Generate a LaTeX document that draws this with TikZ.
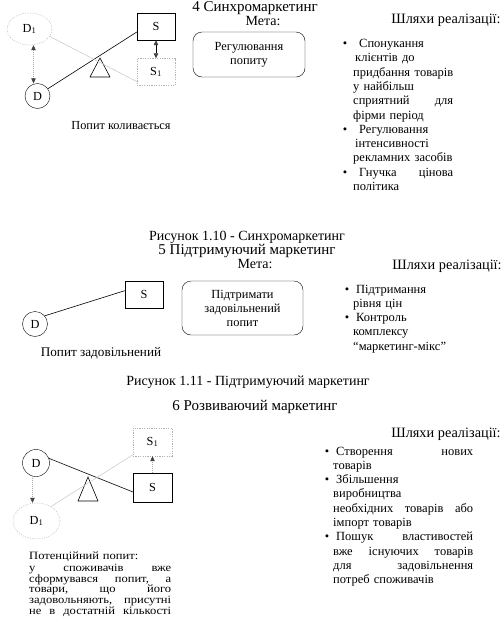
\documentclass[tikz,border=0pt]{standalone}
\usepackage{fontspec}
\setmainfont{Liberation Serif}
\newfontfamily\widefont[FakeStretch=1.12]{Liberation Serif}
\usetikzlibrary{shapes.geometric,arrows.meta,calc}
\newcommand{\bul}[2]{\leavevmode\llap{\textbullet\kern#1}\kern#2}
\newcommand{\jw}[2]{\leavevmode\hbox to #1{#2}}
\tikzset{tri/.tip={Triangle[length=5pt,width=4.5pt,color=black!75]}}
\begin{document}
\begin{tikzpicture}[x=1pt,y=-1pt,
  lbl/.style={inner sep=0pt, font=\fontsize{12.3}{13}\selectfont},
  sbox/.style={draw, minimum width=38pt, minimum height=27pt, inner sep=0pt, lbl},
  sdash/.style={sbox, draw=gray!60, dash pattern=on 1.2pt off 1.2pt},
  dcirc/.style={circle, draw, minimum size=25pt, inner sep=0pt, lbl},
  dell/.style={ellipse, draw=gray!60, dash pattern=on 1.2pt off 1.2pt, inner sep=0pt, lbl},
  goal/.style={draw, rounded corners=9pt, align=center, inner sep=0pt, font=\fontsize{12.4}{14}\selectfont},
  title/.style={anchor=base, inner sep=0pt, font=\fontsize{15}{15}\selectfont},
  capt/.style={anchor=base, inner sep=0pt, font=\fontsize{14}{15}\selectfont},
  head/.style={anchor=base, inner sep=0pt, font=\fontsize{14.3}{15}\selectfont},
  blist/.style={anchor=base west, inner sep=0pt, align=left, font=\fontsize{12.5}{14.3}\selectfont},
  solidl/.style={line width=0.6pt},
  grayl/.style={draw=gray!45, line width=0.5pt},
  darr/.style={draw=gray!70, dash pattern=on 1pt off 1pt, line width=0.5pt},
  seesaw/.style={draw, line width=0.6pt}
]
\useasboundingbox (0,0) rectangle (504,622);

% ---------- 4 Synchromarketing ----------
\node[title] (t4) at (255,11.5) {4 Синхромаркетинг};
\node[capt] (m4) at (263,25) {Мета:};
\node[head] (w4) at (446,23) {Шляхи реалізації:};
\node[goal, minimum width=112pt, minimum height=45pt] (g4) at (249,54.5) {Регулювання\\попиту};

\node[dell, minimum width=45pt, minimum height=32pt] (D1a) at (29.5,29) {D\textsubscript{1}};
\node[dcirc] (Da) at (37.5,96) {D};
\node[sbox] (Sa) at (156,26.5) {S};
\node[sdash] (S1a) at (156,72) {S\textsubscript{1}};
\draw[seesaw] (100,58) -- (90,77) -- (110,77) -- cycle;
\draw[solidl] (Da.35) -- ($(Sa.north west)!0.7!(Sa.south west)$);
\draw[grayl] (D1a.-20) -- ($(S1a.north west)!0.85!(S1a.south west)$);
\coordinate (va) at ($(D1a.south)+(4,0)$);
\draw[darr, tri-tri] (va) -- (va |- Da.north);
\draw[line width=0.6pt, tri-tri] (Sa.south) -- (S1a.north);
\node[lbl] (la) at (121,126) {Попит коливається};

\node[blist, text width=100pt] (ba) at (353,47.5) {%
\bul{6pt}{6pt}Спонукання\\
\hspace*{2pt}клієнтів до\\
\jw{100pt}{придбання \hfill товарів}\\
у найбільш\\
\jw{100pt}{сприятний \hfill для}\\
фірми період\\
\bul{6pt}{6pt}Регулювання\\
\hspace*{2pt}інтенсивності\\
рекламних засобів\\
\bul{6pt}{6pt}\jw{94pt}{Гнучка \hfill цінова}\\
політика};

% ---------- 5 Supporting ----------
\node[capt] (c10) at (247,240) {Рисунок 1.10 - Синхромаркетинг};
\node[title] (t5) at (247,254) {5 Підтримуючий маркетинг};
\node[capt] (m5) at (255,268) {Мета:};
\node[head] (w5) at (447,269) {Шляхи реалізації:};
\node[goal, minimum width=121pt, minimum height=54pt] (g5) at (242.5,308) {Підтримати\\задовільнений\\попит};

\node[sbox] (Sb) at (144,294.5) {S};
\node[dcirc] (Db) at (35,324) {D};
\draw[solidl] (Db.40) -- ($(Sb.north west)!0.36!(Sb.south west)$);
\node[lbl, font=\fontsize{13.2}{14}\selectfont] (lb) at (101,353) {Попит задовільнений};

\node[blist, text width=120pt] (bb) at (353,293) {%
\bul{4pt}{3pt}Підтримання\\
рівня цін\\
\bul{4pt}{3pt}Контроль\\
комплексу\\
“маркетинг-мікс”};

% ---------- 6 Developing ----------
\node[capt] (c11) at (248,385) {Рисунок 1.11 - Підтримуючий маркетинг};
\node[title] (t6) at (255,410) {6 Розвиваючий маркетинг};
\node[head] (w6) at (446,437) {Шляхи реалізації:};

\node[sdash, minimum width=39pt, minimum height=28pt] (S1c) at (152.5,442) {S\textsubscript{1}};
\node[sbox, minimum width=39pt, minimum height=29pt] (Sc) at (152.5,487.5) {S};
\node[dcirc, minimum size=27pt] (Dc) at (36,463) {D};
\node[dell, minimum width=47pt, minimum height=36pt] (D1c) at (36.5,521) {D\textsubscript{1}};
\draw[seesaw] (88,477) -- (78,501) -- (98,501) -- cycle;
\draw[solidl] (Dc.20) -- ($(Sc.north west)!0.65!(Sc.south west)$);
\draw[grayl] (D1c.45) -- ($(S1c.north west)!0.95!(S1c.south west)$);
\draw[darr, -tri] (Dc.-105) -- (Dc.-105 |- D1c.north);
\draw[darr, -tri] (Sc.north) -- (S1c.south);

\node[blist, text width=142pt, font=\widefont\fontsize{11.2}{10.8}\selectfont] (tc) at (29,559) {%
Потенційний попит:\\[1.5pt]
\jw{142pt}{у \hfill споживачів \hfill вже}\\
\jw{142pt}{сформувався \hfill попит, \hfill а}\\
\jw{142pt}{товари, \hfill що \hfill його}\\
\jw{142pt}{задовольняють, \hfill присутні}\\
\jw{142pt}{не \hfill в \hfill достатній \hfill кількості}};

\node[blist, text width=140pt] (bc) at (333,455) {%
\bul{4pt}{3pt}\jw{137pt}{Створення \hfill нових}\\
товарів\\
\bul{4pt}{3pt}Збільшення\\
виробництва\\
\jw{140pt}{необхідних \hfill товарів \hfill або}\\
імпорт товарів\\
\bul{4pt}{3pt}\jw{137pt}{Пошук \hfill властивостей}\\
\jw{140pt}{вже \hfill існуючих \hfill товарів}\\
\jw{140pt}{для \hfill задовільнення}\\
потреб споживачів};
\end{tikzpicture}
\end{document}
